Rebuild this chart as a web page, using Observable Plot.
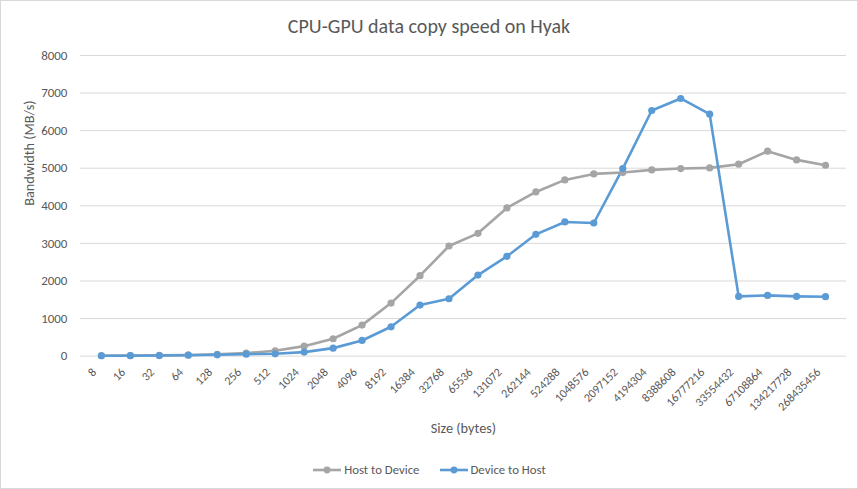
<!DOCTYPE html>
<html>
<head>
<meta charset="utf-8">
<script src="https://cdn.jsdelivr.net/npm/d3@7"></script>
<script src="https://cdn.jsdelivr.net/npm/@observablehq/plot@0.6"></script>
<style>
  html, body { margin: 0; padding: 0; background: #fff; }
  body { font-family: Carlito, "Open Sans", "Noto Sans", sans-serif; color: #595959; }
  #chart { position: relative; width: 856px; height: 487px; border: 1px solid #d9d9d9; overflow: hidden; }
  #title { position: absolute; left: 0; top: 12px; width: 856px; text-align: center; font-size: 20px; line-height: 26px; color: #595959; }
  #plot { position: absolute; left: -1px; top: 44px; }
  #legend { position: absolute; left: 0; top: 460px; width: 856px; display: flex; justify-content: center; gap: 19px; font-size: 12.8px; line-height: 18px; color: #595959; }
  .item { display: flex; align-items: center; }
  .item svg { margin-right: 2px; }
</style>
</head>
<body>
<div id="chart">
  <div id="title">CPU-GPU data copy speed on Hyak</div>
  <div id="plot"></div>
  <div id="legend"></div>
</div>
<script>
const sizes = ["8","16","32","64","128","256","512","1024","2048","4096","8192","16384","32768","65536","131072","262144","524288","1048576","2097152","4194304","8388608","16777216","33554432","67108864","134217728","268435456"];
const hostToDevice = [12, 15, 20, 30, 50, 80, 142, 266, 462, 826, 1412, 2140, 2930, 3268, 3943, 4369, 4689, 4849, 4885, 4956, 4991, 5009, 5107, 5453, 5222, 5080];
const deviceToHost = [10, 12, 15, 25, 35, 53, 62, 107, 213, 417, 781, 1359, 1527, 2158, 2655, 3241, 3570, 3543, 4991, 6536, 6856, 6439, 1590, 1616, 1590, 1581];
const seriesNames = ["Host to Device", "Device to Host"];
const seriesColors = ["#A5A5A5", "#5B9BD5"];
const yTicks = [0, 1000, 2000, 3000, 4000, 5000, 6000, 7000, 8000];

const rows = [];
sizes.forEach((s, i) => {
  rows.push({size: s, value: hostToDevice[i], series: seriesNames[0]});
});
sizes.forEach((s, i) => {
  rows.push({size: s, value: deviceToHost[i], series: seriesNames[1]});
});

const chart = Plot.plot({
  width: 858,
  height: 412,
  marginTop: 10,
  marginBottom: 101,
  marginLeft: 80,
  marginRight: 11,
  style: { fontFamily: 'Carlito, "Open Sans", "Noto Sans", sans-serif', color: "#595959", background: "white" },
  x: { type: "point", domain: sizes, padding: 0.5 },
  y: { domain: [0, 8000] },
  color: { domain: seriesNames, range: seriesColors },
  marks: [
    Plot.ruleY(yTicks, { stroke: "#d9d9d9", strokeWidth: 1 }),
    Plot.axisY({ ticks: yTicks, tickFormat: d => String(d), tickSize: 0, tickPadding: 13, label: null, fontSize: 13, fill: "#595959" }),
    Plot.axisX({ tickRotate: -45, tickSize: 0, tickPadding: 8, dx: -7, dy: 6, label: null, fontSize: 12, fill: "#595959" }),
    Plot.line(rows, { x: "size", y: "value", z: "series", stroke: "series", strokeWidth: 2.6, strokeLinejoin: "round" }),
    Plot.dot(rows, { x: "size", y: "value", fill: "series", r: 3.6, stroke: "none" }),
    Plot.text(["Bandwidth (MB/s)"], { frameAnchor: "left", dx: -51, rotate: -90, fontSize: 14.3, fill: "#595959" }),
    Plot.text(["Size (bytes)"], { frameAnchor: "bottom", dy: 77, fontSize: 14.3, fill: "#595959" })
  ]
});
document.getElementById("plot").appendChild(chart);

const legend = document.getElementById("legend");
seriesNames.forEach((name, i) => {
  const item = document.createElement("div");
  item.className = "item";
  item.innerHTML = `<svg width="30" height="10"><line x1="1" x2="29" y1="5" y2="5" stroke="${seriesColors[i]}" stroke-width="2.6"/><circle cx="15" cy="5" r="3.4" fill="${seriesColors[i]}"/></svg><span>${name}</span>`;
  legend.appendChild(item);
});
</script>
</body>
</html>
